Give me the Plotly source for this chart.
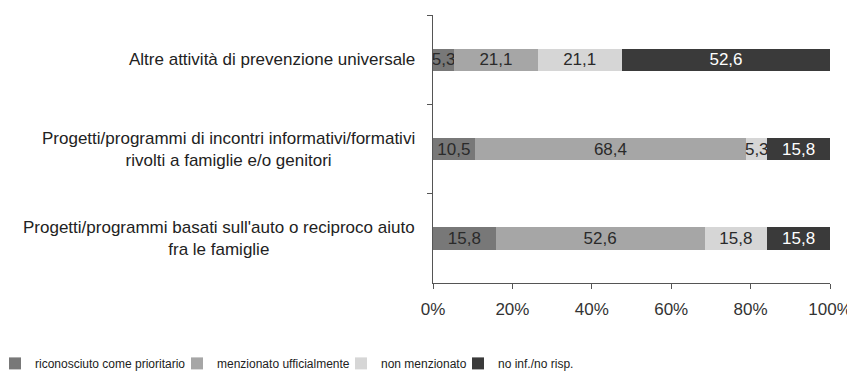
import plotly.graph_objects as go

categories = [
    "Altre attività di prevenzione universale",
    "Progetti/programmi di incontri informativi/formativi<br>rivolti a famiglie e/o genitori",
    "Progetti/programmi basati sull'auto o reciproco aiuto<br>fra le famiglie",
]
series_names = ["riconosciuto come prioritario", "menzionato ufficialmente",
                "non menzionato", "no inf./no risp."]
riconosciuto = [5.3, 10.5, 15.8]
menzionato = [21.1, 68.4, 52.6]
non_menzionato = [21.1, 5.3, 15.8]
no_inf = [52.6, 15.8, 15.8]
tick_vals = [0, 20, 40, 60, 80, 100]
tick_labels = ["0%", "20%", "40%", "60%", "80%", "100%"]

colors = ["#787878", "#a6a6a6", "#d6d6d6", "#3a3a3a"]
text_colors = ["#2a2a2a", "#2a2a2a", "#2a2a2a", "#ffffff"]
series = [riconosciuto, menzionato, non_menzionato, no_inf]
legend_ids = ["legend", "legend2", "legend3", "legend4"]
legend_x = [-1.1033, -0.6448, -0.2318, 0.0630]

font_family = "Liberation Sans, Arial, sans-serif"

fig = go.Figure()
for name, vals, col, tcol, lg in zip(series_names, series, colors, text_colors, legend_ids):
    fig.add_trace(go.Bar(
        y=categories, x=vals, name=name, orientation="h",
        marker=dict(color=col, line=dict(width=0)),
        width=0.25,
        text=vals, texttemplate="%{x:.1f}",
        textposition="inside", insidetextanchor="middle",
        constraintext="none", textangle=0,
        textfont=dict(color=tcol, size=17, family=font_family),
        hoverinfo="skip", legend=lg,
    ))

for cat in categories:
    fig.add_annotation(
        x=0, xref="paper", xanchor="right", xshift=-16,
        y=cat, yref="y", yanchor="middle",
        text=cat, showarrow=False, align="center",
        font=dict(size=17, color="#222222", family=font_family),
    )

legend_layouts = {}
for lg, lx in zip(legend_ids, legend_x):
    legend_layouts[lg] = dict(
        orientation="h", x=lx, xanchor="left", y=-0.30, yanchor="middle",
        font=dict(size=12, family=font_family, color="#222222"),
        itemwidth=30, bgcolor="rgba(0,0,0,0)",
    )

fig.update_layout(
    barmode="stack",
    width=847, height=375,
    margin=dict(l=425, r=25, t=7, b=100, autoexpand=False),
    paper_bgcolor="white", plot_bgcolor="white",
    separators=",.",
    font=dict(family=font_family, color="#222222", size=13),
    showlegend=True,
    xaxis=dict(
        range=[0, 100], tickvals=tick_vals, ticktext=tick_labels,
        showgrid=False, zeroline=False, showline=True, linecolor="#555555",
        linewidth=1, ticks="outside", ticklen=5, tickcolor="#555555",
        tickfont=dict(size=17, color="#333333"), ticklabelstandoff=6,
    ),
    yaxis=dict(
        categoryorder="array", categoryarray=categories, autorange="reversed",
        showticklabels=False, showgrid=False, zeroline=False, showline=True,
        linecolor="#555555", linewidth=1, ticks="outside", ticklen=5,
        tickcolor="#555555", tickson="boundaries",
    ),
    **legend_layouts,
)

fig.write_html("out.html")
